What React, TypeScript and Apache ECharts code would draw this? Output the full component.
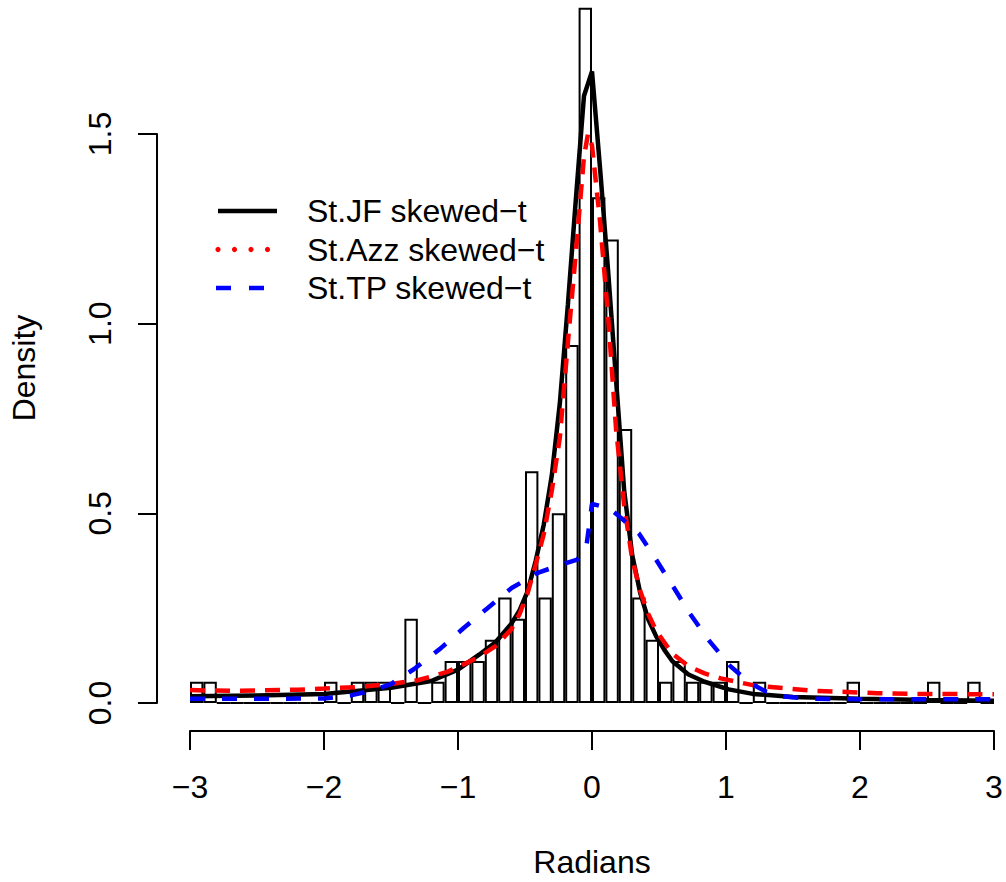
import React, { useEffect, useRef } from "react";
import * as echarts from "echarts";

// Histogram: density per bin of width 0.1, bins from -3.0 to 3.0
const binStart = -3;
const binWidth = 0.1;
const histDensity = [
  0.056, 0.056, 0, 0, 0, 0, 0, 0, 0, 0,
  0.056, 0, 0.056, 0.056, 0.056, 0, 0.222, 0, 0.056, 0.111,
  0.111, 0.111, 0.167, 0.278, 0.222, 0.611, 0.278, 0.5, 0.944, 1.833,
  1.333, 1.222, 0.722, 0.278, 0.167, 0.056, 0.111, 0.056, 0.056, 0.056,
  0.111, 0, 0.056, 0, 0, 0, 0, 0, 0, 0.056,
  0, 0, 0, 0, 0, 0.056, 0, 0, 0.056, 0,
];

// St.JF skewed-t
const jfX = [-3, -2.5, -2, -1.5, -1.2, -1.0, -0.84, -0.72, -0.6, -0.54, -0.48, -0.42, -0.36, -0.3, -0.24, -0.18, -0.12, -0.06, 0, 0.06, 0.12, 0.18, 0.24, 0.3, 0.36, 0.42, 0.48, 0.54, 0.6, 0.72, 0.84, 1.02, 1.2, 1.5, 2.0, 2.5, 3.0];
const jfY = [0.018, 0.02, 0.024, 0.04, 0.058, 0.088, 0.128, 0.16, 0.21, 0.245, 0.295, 0.375, 0.47, 0.6, 0.79, 1.05, 1.33, 1.6, 1.665, 1.41, 1.14, 0.85, 0.56, 0.39, 0.29, 0.22, 0.175, 0.14, 0.11, 0.075, 0.056, 0.036, 0.024, 0.016, 0.011, 0.008, 0.006];

// St.Azz skewed-t
const azzX = [-3, -2.7, -2.5, -2.2, -2.0, -1.75, -1.5, -1.3, -1.08, -0.86, -0.72, -0.6, -0.54, -0.48, -0.42, -0.36, -0.3, -0.24, -0.18, -0.12, -0.06, -0.03, 0, 0.06, 0.12, 0.18, 0.24, 0.3, 0.36, 0.42, 0.48, 0.6, 0.72, 0.84, 0.96, 1.2, 1.43, 1.65, 1.9, 2.13, 2.4, 3.0];
const azzY = [0.034, 0.032, 0.033, 0.035, 0.038, 0.042, 0.05, 0.06, 0.082, 0.118, 0.15, 0.195, 0.235, 0.29, 0.365, 0.445, 0.56, 0.7, 0.95, 1.19, 1.44, 1.5, 1.47, 1.27, 1.02, 0.72, 0.52, 0.38, 0.295, 0.235, 0.19, 0.13, 0.097, 0.078, 0.065, 0.047, 0.039, 0.032, 0.029, 0.026, 0.024, 0.023];

// St.TP skewed-t
const tpX = [-3, -2.5, -2.0, -1.8, -1.65, -1.5, -1.33, -1.13, -0.96, -0.78, -0.6, -0.4, -0.2, -0.11, -0.04, 0, 0.13, 0.21, 0.35, 0.48, 0.6, 0.73, 0.87, 1.03, 1.18, 1.3, 1.43, 1.66, 2.0, 3.0];
const tpY = [0.011, 0.011, 0.012, 0.02, 0.032, 0.05, 0.089, 0.144, 0.197, 0.25, 0.303, 0.344, 0.368, 0.378, 0.418, 0.525, 0.513, 0.49, 0.447, 0.377, 0.31, 0.236, 0.166, 0.098, 0.052, 0.03, 0.017, 0.011, 0.01, 0.01];

const legendNames = ["St.JF skewed\u2212t", "St.Azz skewed\u2212t", "St.TP skewed\u2212t"];
const xTicks = [-3, -2, -1, 0, 1, 2, 3];
const yTicks = [0, 0.5, 1.0, 1.5];

const FONT = "'Liberation Sans', Arial, Helvetica, sans-serif";

export default function App() {
  const ref = useRef<HTMLDivElement>(null);
  useEffect(() => {
    if (!ref.current) return;
    const chart = echarts.init(ref.current, null, { renderer: "svg" });
    const histData = histDensity.map((d, i) => [binStart + binWidth * (i + 0.5), d]);
    const zip = (xs: number[], ys: number[]) => xs.map((x, i) => [x, ys[i]]);
    const gridLeft = 190;
    const gridWidth = 804;
    const pxPerUnit = (703 - 134) / 1.5;
    const yMax = 1.85;
    const mainTop = 703 - yMax * pxPerUnit;
    const barPx = binWidth * (gridWidth / (xTicks[xTicks.length - 1] - xTicks[0]));
    const dotXs = [218, 234.5, 251, 267.5];
    chart.setOption({
      animation: false,
      backgroundColor: "#ffffff",
      textStyle: { fontFamily: FONT },
      grid: [
        { left: gridLeft, width: gridWidth, top: mainTop, height: 703 - mainTop },
        { left: gridLeft, width: gridWidth, top: 134, height: 569 },
      ],
      xAxis: [
        {
          type: "value",
          gridIndex: 0,
          min: xTicks[0],
          max: xTicks[xTicks.length - 1],
          interval: 1,
          offset: 28,
          axisLine: { show: true, onZero: false, lineStyle: { color: "#000", width: 2 } },
          axisTick: { show: true, inside: false, length: 19, lineStyle: { color: "#000", width: 2 } },
          axisLabel: {
            show: true,
            margin: 40,
            color: "#000",
            fontSize: 32,
            fontFamily: FONT,
            formatter: (v: number) => (v < 0 ? "\u2212" + Math.abs(v) : String(v)),
          },
          splitLine: { show: false },
        },
        { type: "value", gridIndex: 1, min: -3, max: 3, show: false },
      ],
      yAxis: [
        { type: "value", gridIndex: 0, min: 0, max: yMax, show: false, splitLine: { show: false } },
        {
          type: "value",
          gridIndex: 1,
          min: yTicks[0],
          max: yTicks[yTicks.length - 1],
          interval: 0.5,
          offset: 33,
          axisLine: { show: true, onZero: false, lineStyle: { color: "#000", width: 2 } },
          axisTick: { show: true, inside: false, length: 19, lineStyle: { color: "#000", width: 2 } },
          axisLabel: {
            show: true,
            rotate: 90,
            margin: 41,
            color: "#000",
            fontSize: 32,
            fontFamily: FONT,
            formatter: (v: number) => v.toFixed(1),
          },
          splitLine: { show: false },
        },
      ],
      graphic: [
        {
          type: "text",
          x: 592,
          y: 862,
          style: { text: "Radians", fontSize: 32, fontFamily: FONT, fill: "#000", align: "center", verticalAlign: "middle" },
        },
        {
          type: "text",
          x: 24,
          y: 368,
          rotation: Math.PI / 2,
          style: { text: "Density", fontSize: 32, fontFamily: FONT, fill: "#000", align: "center", verticalAlign: "middle" },
        },
        { type: "line", shape: { x1: 218, y1: 211, x2: 277, y2: 211 }, style: { stroke: "#000", lineWidth: 4.5 } },
        ...dotXs.map((dx) => ({ type: "circle", shape: { cx: dx, cy: 249.5, r: 2.6 }, style: { fill: "#ff0000" } })),
        { type: "line", shape: { x1: 216, y1: 288, x2: 231, y2: 288 }, style: { stroke: "#0000ff", lineWidth: 4.5 } },
        { type: "line", shape: { x1: 249, y1: 288, x2: 264, y2: 288 }, style: { stroke: "#0000ff", lineWidth: 4.5 } },
        { type: "text", x: 307, y: 211, style: { text: legendNames[0], fontSize: 32, fontFamily: FONT, fill: "#000", verticalAlign: "middle" } },
        { type: "text", x: 307, y: 249.5, style: { text: legendNames[1], fontSize: 32, fontFamily: FONT, fill: "#000", verticalAlign: "middle" } },
        { type: "text", x: 307, y: 288, style: { text: legendNames[2], fontSize: 32, fontFamily: FONT, fill: "#000", verticalAlign: "middle" } },
      ],
      series: [
        {
          type: "bar",
          name: "Histogram",
          xAxisIndex: 0,
          yAxisIndex: 0,
          data: histData,
          barWidth: barPx,
          itemStyle: { color: "#ffffff", borderColor: "#000", borderWidth: 2 },
          clip: false,
        },
        {
          type: "line",
          name: legendNames[0],
          xAxisIndex: 0,
          yAxisIndex: 0,
          data: zip(jfX, jfY),
          symbol: "none",
          lineStyle: { color: "#000", width: 4.5 },
        },
        {
          type: "line",
          name: legendNames[1],
          xAxisIndex: 0,
          yAxisIndex: 0,
          data: zip(azzX, azzY),
          symbol: "none",
          lineStyle: { color: "#ff0000", width: 4.5, type: [15, 10] },
        },
        {
          type: "line",
          name: legendNames[2],
          xAxisIndex: 0,
          yAxisIndex: 0,
          data: zip(tpX, tpY),
          symbol: "none",
          lineStyle: { color: "#0000ff", width: 4.5, type: [15, 17] },
        },
        { type: "scatter", xAxisIndex: 1, yAxisIndex: 1, data: [], silent: true },
      ],
    });
    return () => chart.dispose();
  }, []);
  return <div ref={ref} style={{ position: "fixed", left: 0, top: 0, width: 1006, height: 882, background: "#fff" }} />;
}
